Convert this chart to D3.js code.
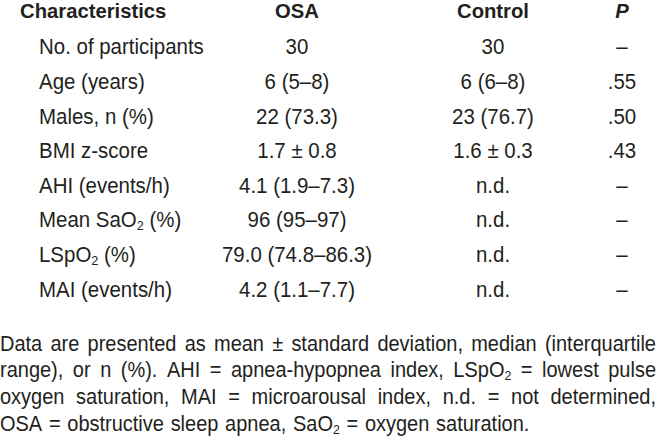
<!DOCTYPE html>
<html><head><meta charset="utf-8">
<script src="https://cdn.jsdelivr.net/npm/d3@7"></script>
<style>
html,body{margin:0;padding:0;background:#fff;}
svg{display:block;}
text{font-family:"Liberation Sans",Arial,Helvetica,sans-serif;fill:#231f20;}
</style></head><body>
<svg id="c" width="658" height="442"></svg>
<script>
const headers = ["Characteristics", "OSA", "Control", "P"];
const characteristics = ["No. of participants", "Age (years)", "Males, n (%)", "BMI z-score", "AHI (events/h)", "Mean SaO_2 (%)", "LSpO_2 (%)", "MAI (events/h)"];
const osaValues = ["30", "6 (5\u20138)", "22 (73.3)", "1.7 \u00b1 0.8", "4.1 (1.9\u20137.3)", "96 (95\u201397)", "79.0 (74.8\u201386.3)", "4.2 (1.1\u20137.7)"];
const controlValues = ["30", "6 (6\u20138)", "23 (76.7)", "1.6 \u00b1 0.3", "n.d.", "n.d.", "n.d.", "n.d."];
const pValues = ["\u2013", ".55", ".50", ".43", "\u2013", "\u2013", "\u2013", "\u2013"];
const footnoteLines = [
  "Data are presented as mean \u00b1 standard deviation, median (interquartile",
  "range), or n (%). AHI = apnea-hypopnea index, LSpO_2 = lowest pulse",
  "oxygen saturation, MAI = microarousal index, n.d. = not determined,",
  "OSA = obstructive sleep apnea, SaO_2 = oxygen saturation."
];

const svg = d3.select("#c");
const fs = 22, sx = 0.93;
const hfs = 21, hsx = 0.965;

function addRich(sel, str, size) {
  const parts = str.split(/(_\d)/).filter(p => p.length);
  let shift = 0;
  parts.forEach(p => {
    if (/^_\d$/.test(p)) {
      sel.append("tspan").attr("font-size", size * 0.62).attr("dy", size * 0.14).text(p.slice(1));
      shift = size * 0.14;
    } else {
      const t = sel.append("tspan").attr("font-size", size).text(p);
      if (shift) { t.attr("dy", -shift); shift = 0; }
    }
  });
}

function place(g, x, yy, anchor, str, size, s) {
  const t = g.append("text")
    .attr("transform", `translate(${x},${yy}) scale(${s},1)`)
    .attr("text-anchor", anchor)
    .attr("font-size", size);
  addRich(t, str, size);
  return t;
}

const colX = d3.scaleOrdinal().domain(["label", "osa", "control", "p"]).range([39, 297, 493, 622]);
const y = d3.scalePoint().domain(d3.range(characteristics.length)).range([54.3, 296.5]);

// header
const hdr = svg.append("g").attr("font-weight", "bold");
place(hdr, 20, 18, "start", headers[0], hfs, hsx);
place(hdr, colX("osa"), 18, "middle", headers[1], hfs, hsx);
place(hdr, colX("control"), 18, "middle", headers[2], hfs, hsx);
place(hdr, colX("p"), 18, "middle", headers[3], hfs, hsx).attr("font-style", "italic");

const body = svg.append("g");
characteristics.forEach((d, i) => {
  place(body, colX("label"), y(i), "start", d, fs, sx);
  place(body, colX("osa"), y(i), "middle", osaValues[i], fs, sx);
  place(body, colX("control"), y(i), "middle", controlValues[i], fs, sx);
  place(body, colX("p"), y(i), "middle", pValues[i], fs, sx);
});

// footnote, justified
const fnFs = 21.5, fnSx = 0.93;
const fnY = d3.scalePoint().domain(d3.range(footnoteLines.length)).range([350.5, 431]);
const fnLeft = 0, fnRight = 656;
footnoteLines.forEach((line, li) => {
  const words = line.split(" ");
  const g = svg.append("g");
  const nodes = words.map(w => place(g, 0, fnY(li), "start", w, fnFs, fnSx));
  const widths = nodes.map(n => n.node().getComputedTextLength() * fnSx);
  const total = d3.sum(widths);
  const last = li === footnoteLines.length - 1;
  const spaceW = 6.7;
  const gap = last ? spaceW : (fnRight - fnLeft - total) / (words.length - 1);
  let x = fnLeft;
  nodes.forEach((n, i) => {
    n.attr("transform", `translate(${x},${fnY(li)}) scale(${fnSx},1)`);
    x += widths[i] + gap;
  });
});
</script>
</body></html>
